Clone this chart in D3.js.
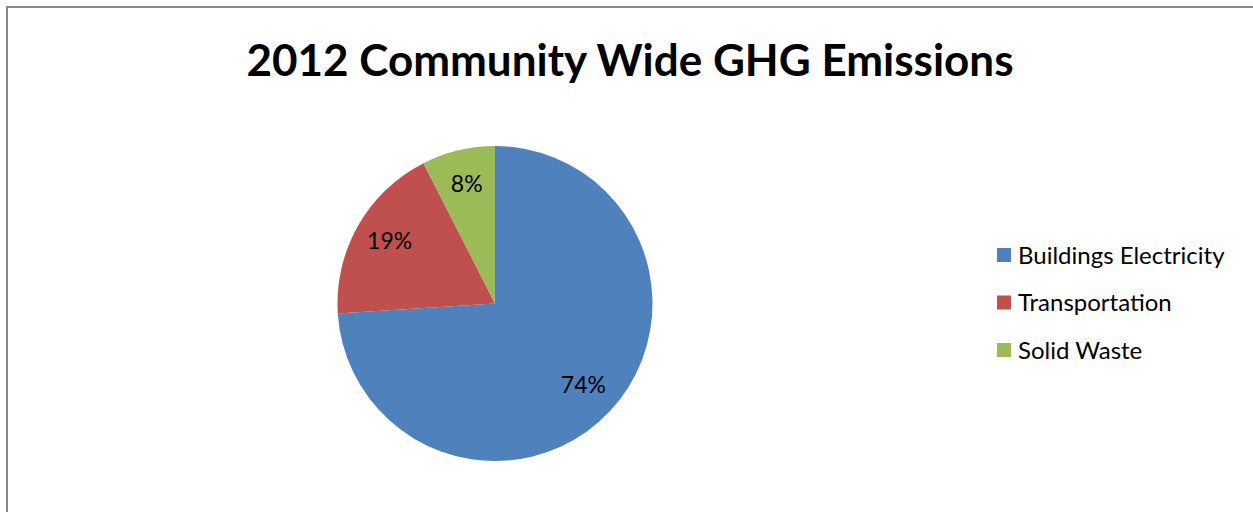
<!DOCTYPE html>
<html>
<head>
<meta charset="utf-8">
<script src="https://cdn.jsdelivr.net/npm/d3@7"></script>
<style>
  html, body { margin: 0; padding: 0; background: #fff; }
  svg { display: block; }
  text { font-family: Lato, "Open Sans", sans-serif; }
</style>
</head>
<body>
<svg id="chart" width="1253" height="512"></svg>
<script>
// Community-wide greenhouse gas emissions by sector, 2012 (share of total, %)
const categories = ["Buildings Electricity", "Transportation", "Solid Waste"];
const shares = [74.0, 18.5, 7.5];
const colors = ["#4F81BD", "#C0504D", "#9BBB59"];
const chartTitle = "2012 Community Wide GHG Emissions";

const svg = d3.select("#chart");
const W = 1253, H = 512;

// outer frame of the chart area
svg.append("rect")
  .attr("x", 7).attr("y", 7)
  .attr("width", W + 20).attr("height", H + 20)
  .attr("fill", "#fff")
  .attr("stroke", "#898989")
  .attr("stroke-width", 2);

svg.append("text")
  .attr("x", 630).attr("y", 76)
  .attr("text-anchor", "middle")
  .attr("font-size", 44)
  .attr("font-weight", 700)
  .attr("fill", "#000")
  .text(chartTitle);

const cx = 495, cy = 303.5, R = 157.5;
const data = categories.map((c, i) => ({ name: c, value: shares[i], color: colors[i] }));

const pie = d3.pie().value(d => d.value).sort(null);
const arc = d3.arc().innerRadius(0).outerRadius(R);
const labelArc = d3.arc().innerRadius(R * 0.77).outerRadius(R * 0.77);
const total = d3.sum(shares);

const g = svg.append("g").attr("transform", `translate(${cx},${cy})`);
const slices = pie(data);

g.selectAll("path")
  .data(slices)
  .join("path")
  .attr("d", arc)
  .attr("fill", d => d.data.color);

g.selectAll("text.pct")
  .data(slices)
  .join("text")
  .attr("class", "pct")
  .attr("transform", d => `translate(${labelArc.centroid(d)})`)
  .attr("y", -3)
  .attr("text-anchor", "middle")
  .attr("dominant-baseline", "central")
  .attr("font-size", 23)
  .attr("fill", "#000")
  .text(d => Math.round(d.data.value / total * 100) + "%");

// legend
const legend = svg.append("g").attr("transform", "translate(997,255)");
const rows = legend.selectAll("g")
  .data(data)
  .join("g")
  .attr("transform", (d, i) => `translate(0,${i * 47.5})`);

rows.append("rect")
  .attr("x", 0).attr("y", -7)
  .attr("width", 14).attr("height", 14)
  .attr("fill", d => d.color);

rows.append("text")
  .attr("x", 21).attr("y", -1)
  .attr("dominant-baseline", "central")
  .attr("font-size", 24)
  .attr("fill", "#000")
  .text(d => d.name);
</script>
</body>
</html>
